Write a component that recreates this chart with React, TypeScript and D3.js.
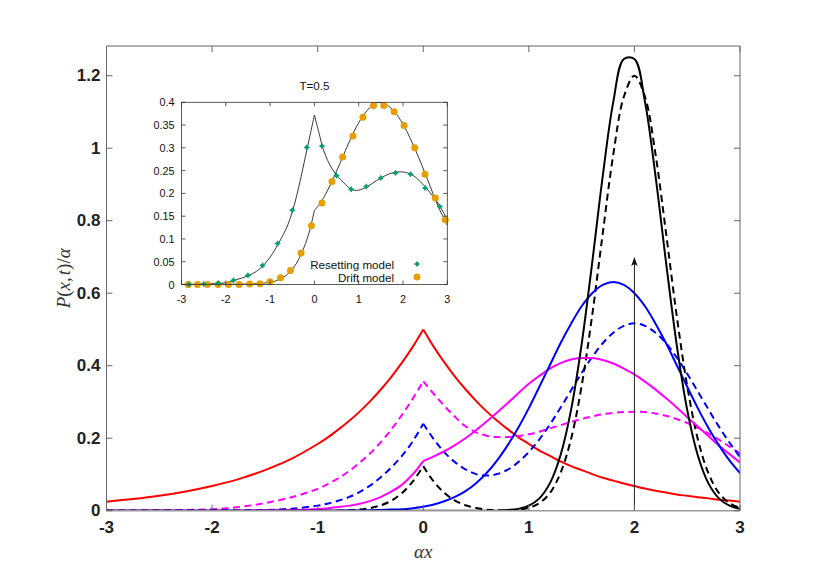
import * as d3 from 'd3';

// shared x grid for the main panel (finer from -1 to 3)
const xGrid = [
  -3, -2.75, -2.5, -2.25, -2, -1.75, -1.5, -1.25,
  -1, -0.9, -0.8, -0.7, -0.6, -0.5, -0.4, -0.3, -0.2, -0.1, 0,
  0.1, 0.2, 0.3, 0.4, 0.5, 0.6, 0.7, 0.8, 0.9, 1,
  1.1, 1.2, 1.3, 1.4, 1.5, 1.6, 1.7, 1.8, 1.9, 2,
  2.1, 2.2, 2.3, 2.4, 2.5, 2.6, 2.7, 2.8, 2.9, 3,
];

const redSteady = [
  0.025, 0.032, 0.041, 0.053, 0.068, 0.087, 0.112, 0.143,
  0.184, 0.203, 0.225, 0.248, 0.274, 0.303, 0.335, 0.370, 0.409, 0.452, 0.5,
  0.452, 0.409, 0.370, 0.335, 0.303, 0.274, 0.248, 0.225, 0.203, 0.184,
  0.166, 0.151, 0.136, 0.123, 0.112, 0.101, 0.091, 0.083, 0.075, 0.068,
  0.061, 0.055, 0.050, 0.045, 0.041, 0.037, 0.034, 0.030, 0.028, 0.025,
];

const magentaSolid = [
  0, 0, 0, 0, 0, 0, 0.001, 0.002,
  0.005, 0.007, 0.010, 0.014, 0.019, 0.027, 0.038, 0.053, 0.072, 0.100, 0.137,
  0.150, 0.164, 0.181, 0.200, 0.222, 0.246, 0.271, 0.297, 0.324, 0.350,
  0.372, 0.392, 0.407, 0.417, 0.421, 0.421, 0.416, 0.406, 0.392, 0.376,
  0.356, 0.334, 0.310, 0.285, 0.258, 0.232, 0.206, 0.180, 0.156, 0.133,
];

const magentaDashed = [
  0, 0, 0.001, 0.002, 0.004, 0.010, 0.021, 0.037,
  0.060, 0.074, 0.090, 0.110, 0.133, 0.159, 0.190, 0.225, 0.265, 0.309, 0.357,
  0.322, 0.289, 0.259, 0.233, 0.216, 0.207, 0.203, 0.203, 0.206, 0.211,
  0.218, 0.227, 0.236, 0.245, 0.253, 0.260, 0.266, 0.270, 0.272, 0.273,
  0.272, 0.268, 0.262, 0.253, 0.242, 0.229, 0.213, 0.196, 0.177, 0.158,
];

const blueSolid = [
  0, 0, 0, 0, 0, 0, 0, 0,
  0, 0, 0.0003, 0.0005, 0.0008, 0.001, 0.002, 0.003, 0.004, 0.007, 0.011,
  0.017, 0.026, 0.038, 0.054, 0.076, 0.104, 0.139, 0.181, 0.229, 0.283,
  0.342, 0.402, 0.462, 0.516, 0.564, 0.600, 0.623, 0.631, 0.623, 0.600,
  0.564, 0.516, 0.462, 0.402, 0.342, 0.283, 0.229, 0.181, 0.139, 0.104,
];

const blueDashed = [
  0, 0, 0, 0, 0.0002, 0.0007, 0.002, 0.0055,
  0.014, 0.020, 0.028, 0.038, 0.052, 0.070, 0.093, 0.120, 0.152, 0.191, 0.240,
  0.197, 0.161, 0.134, 0.114, 0.101, 0.097, 0.101, 0.113, 0.134, 0.162,
  0.197, 0.238, 0.284, 0.332, 0.380, 0.424, 0.462, 0.491, 0.510, 0.517,
  0.510, 0.491, 0.462, 0.423, 0.378, 0.329, 0.280, 0.232, 0.188, 0.148,
];

const blackSolid = [
  0, 0, 0, 0, 0, 0, 0, 0,
  0, 0, 0, 0, 0, 0, 0, 0, 0, 0, 0,
  0, 0, 0, 0, 0, 0, 0, 0.002, 0.005, 0.014,
  0.034, 0.076, 0.153, 0.278, 0.459, 0.684, 0.923, 1.128, 1.246, 1.246,
  1.128, 0.923, 0.684, 0.459, 0.278, 0.153, 0.076, 0.034, 0.014, 0.005,
];

const blackDashed = [
  0, 0, 0, 0, 0, 0, 0, 0,
  0, 0, 0, 0.001, 0.003, 0.0075, 0.015, 0.028, 0.049, 0.080, 0.123,
  0.080, 0.049, 0.028, 0.015, 0.0075, 0.003, 0.001, 0.001, 0.003, 0.008,
  0.021, 0.049, 0.104, 0.198, 0.344, 0.539, 0.765, 0.983, 1.142, 1.2,
  1.142, 0.983, 0.765, 0.539, 0.344, 0.198, 0.104, 0.049, 0.021, 0.008,
];

// initial position marker
const arrowX = 2;
const arrowTop = 0.7;

const mainXTicks = [-3, -2, -1, 0, 1, 2, 3];
const mainYTicks = [0, 0.2, 0.4, 0.6, 0.8, 1, 1.2];
const mainYMax = 1.282;

// inset, T=0.5
const insetX = [
  -3, -2.5, -2, -1.75, -1.5, -1.25, -1, -0.9, -0.8, -0.7, -0.6, -0.5, -0.4, -0.3, -0.2, -0.1, 0,
  0.1, 0.2, 0.3, 0.4, 0.5, 0.6, 0.7, 0.8, 0.9, 1, 1.2, 1.4, 1.6, 1.8, 2, 2.2, 2.4, 2.6, 2.8, 3,
];
const insetResettingLine = [
  0.0002, 0.001, 0.004, 0.011, 0.019, 0.033, 0.060, 0.075, 0.092, 0.110, 0.131, 0.159, 0.195, 0.237, 0.282, 0.327, 0.372,
  0.334, 0.297, 0.272, 0.254, 0.240, 0.229, 0.220, 0.211, 0.207, 0.207, 0.215, 0.228, 0.239, 0.246, 0.247, 0.241, 0.225, 0.203, 0.177, 0.142,
];
const insetDriftLine = [
  0, 0, 0.0003, 0.0006, 0.001, 0.002, 0.005, 0.007, 0.011, 0.016, 0.023, 0.034, 0.047, 0.067, 0.090, 0.121, 0.163,
  0.174, 0.189, 0.207, 0.227, 0.249, 0.271, 0.294, 0.316, 0.337, 0.355, 0.383, 0.399, 0.396, 0.380, 0.352, 0.313, 0.268, 0.219, 0.170, 0.130,
];

const resettingPtsX = [-2.83, -2.5, -2.17, -1.83, -1.5, -1.17, -0.83, -0.5, -0.17, 0.17, 0.5, 0.83, 1.17, 1.5, 1.83, 2.17, 2.5, 2.83];
const resettingPtsY = [0, 0.001, 0.003, 0.009, 0.020, 0.042, 0.090, 0.163, 0.301, 0.304, 0.239, 0.209, 0.215, 0.234, 0.245, 0.242, 0.212, 0.171];

const driftPtsX = [
  -2.85, -2.64, -2.415, -2.175, -1.94, -1.70, -1.46, -1.23, -1.005, -0.765, -0.54, -0.30, -0.067,
  0.17, 0.3975, 0.6375, 0.87, 1.095, 1.335, 1.5675, 1.80, 2.025, 2.265, 2.4975, 2.73, 2.955,
];
const driftPtsY = [
  0, 0, 0, 0, 0, 0, 0.001, 0.0015, 0.006, 0.015, 0.031, 0.069, 0.129,
  0.179, 0.226, 0.280, 0.326, 0.367, 0.393, 0.393, 0.379, 0.349, 0.300, 0.242, 0.190, 0.142,
];

const insetXTicks = [-3, -2, -1, 0, 1, 2, 3];
const insetYTicks = [0, 0.05, 0.1, 0.15, 0.2, 0.25, 0.3, 0.35, 0.4];
const insetYTickLabels = ['0', '0.05', '0.1', '0.15', '0.2', '0.25', '0.3', '0.35', '0.4'];

type Pt = [number, number];

// split a series at x = 0 so the cusp stays sharp
function splitAtZero(xs: number[], ys: number[]): Pt[][] {
  const pts: Pt[] = xs.map((x, i) => [x, ys[i]]);
  return [pts.filter((p) => p[0] <= 0), pts.filter((p) => p[0] >= 0)];
}

const greenStar = (r: number) => {
  const a = r * 0.4;
  return `M0,${-r}L${a},${-a}L${r},0L${a},${a}L0,${r}L${-a},${a}L${-r},0L${-a},${-a}Z`;
};

export default function App() {
  const x = d3.scaleLinear().domain([-3, 3]).range([106.5, 740]);
  const y = d3.scaleLinear().domain([0, mainYMax]).range([510.7, 46]);
  const [x0, x1] = x.range();
  const [yb, yt] = y.range();

  const line = d3
    .line<Pt>()
    .x((d) => x(d[0]))
    .y((d) => y(d[1]))
    .curve(d3.curveCatmullRom.alpha(0.5));

  const series = [
    { ys: redSteady, color: '#ff0000', dash: null },
    { ys: magentaDashed, color: '#ff00ff', dash: '7,4.5' },
    { ys: blueDashed, color: '#0000ff', dash: '7,4.5' },
    { ys: blackDashed, color: '#000000', dash: '7,4.5' },
    { ys: magentaSolid, color: '#ff00ff', dash: null },
    { ys: blueSolid, color: '#0000ff', dash: null },
    { ys: blackSolid, color: '#000000', dash: null },
  ];

  // inset scales
  const xi = d3.scaleLinear().domain([-3, 3]).range([181.5, 447.3]);
  const yi = d3.scaleLinear().domain([0, 0.4]).range([284.5, 102.3]);
  const [xi0, xi1] = xi.range();
  const [yib, yit] = yi.range();
  const insetLine = d3
    .line<Pt>()
    .x((d) => xi(d[0]))
    .y((d) => yi(d[1]))
    .curve(d3.curveCatmullRom.alpha(0.5));

  const tickFont = '"Liberation Sans", Arial, Helvetica, sans-serif';
  const texFont = '"Liberation Serif", "Times New Roman", serif';
  const axisColor = '#666';
  const tl = 6;

  return (
    <svg
      width={817}
      height={577}
      viewBox="0 0 817 577"
      style={{ position: 'absolute', left: 0, top: 0, background: '#fff' }}
    >
      <defs>
        <clipPath id="mainClip">
          <rect x={x0} y={yt} width={x1 - x0} height={yb - yt} />
        </clipPath>
        <clipPath id="insetClip">
          <rect x={xi0} y={yit - 1} width={xi1 - xi0} height={yib - yit + 1} />
        </clipPath>
      </defs>

      {/* curves */}
      <g clipPath="url(#mainClip)" fill="none" strokeWidth={2} strokeLinejoin="round">
        {series.map((s, i) =>
          splitAtZero(xGrid, s.ys).map((half, j) => (
            <path
              key={`${i}-${j}`}
              d={line(half) ?? ''}
              stroke={s.color}
              strokeDasharray={s.dash ?? undefined}
            />
          ))
        )}
      </g>

      {/* arrow at the starting point */}
      <g>
        <line
          x1={x(arrowX)}
          x2={x(arrowX)}
          y1={y(0)}
          y2={y(arrowTop) + 6}
          stroke="#222"
          strokeWidth={1}
        />
        <path
          d={`M${x(arrowX)},${y(arrowTop)} L${x(arrowX) + 3.2},${y(arrowTop) + 9} L${x(arrowX)},${y(arrowTop) + 7} L${x(arrowX) - 3.2},${y(arrowTop) + 9} Z`}
          fill="#111"
        />
      </g>

      {/* main box + ticks */}
      <g stroke={axisColor} strokeWidth={1} fill="none">
        <line x1={x0} x2={x1} y1={yt} y2={yt} />
        <line x1={x0} x2={x0} y1={yt} y2={yb} />
        <line x1={x1} x2={x1} y1={yt} y2={yb} />
        <line x1={x0} x2={x1} y1={yb} y2={yb} stroke="#9a9a9a" strokeWidth={1.5} />
        {mainYTicks.map((t) => (
          <g key={`yt${t}`}>
            <line x1={x0} x2={x0 + tl} y1={y(t)} y2={y(t)} />
            <line x1={x1} x2={x1 - tl} y1={y(t)} y2={y(t)} />
          </g>
        ))}
        {mainXTicks.map((t) => (
          <g key={`xt${t}`}>
            <line x1={x(t)} x2={x(t)} y1={yb} y2={yb - tl} />
            <line x1={x(t)} x2={x(t)} y1={yt} y2={yt + tl} />
          </g>
        ))}
      </g>

      <g fontFamily={tickFont} fontWeight="bold" fontSize={17} fill="#222">
        {mainYTicks.map((t) => (
          <text key={`yl${t}`} x={x0 - 6} y={y(t)} textAnchor="end" dominantBaseline="central">
            {d3.format('~g')(t)}
          </text>
        ))}
        {mainXTicks.map((t) => (
          <text key={`xl${t}`} x={x(t)} y={yb + 17} textAnchor="middle" dominantBaseline="central">
            {String(t)}
          </text>
        ))}
      </g>

      {/* axis titles */}
      <text
        x={(x0 + x1) / 2}
        y={551}
        textAnchor="middle"
        dominantBaseline="central"
        fontFamily={texFont}
        fontStyle="italic"
        fontSize={19}
        fill="#333"
      >
        αx
      </text>
      <text
        transform={`translate(63,${(yt + yb) / 2}) rotate(-90)`}
        textAnchor="middle"
        dominantBaseline="central"
        fontFamily={texFont}
        fontSize={19}
        fill="#333"
      >
        <tspan fontStyle="italic">P</tspan>
        <tspan>(</tspan>
        <tspan fontStyle="italic">x</tspan>
        <tspan>,</tspan>
        <tspan fontStyle="italic" dx={2}>t</tspan>
        <tspan>)/</tspan>
        <tspan fontStyle="italic">α</tspan>
      </text>

      {/* inset */}
      <g>
        <rect x={xi0} y={yit} width={xi1 - xi0} height={yib - yit} fill="#fff" />
        <g clipPath="url(#insetClip)" fill="none" stroke="#222" strokeWidth={0.9}>
          {splitAtZero(insetX, insetResettingLine).map((h, j) => (
            <path key={`ir${j}`} d={insetLine(h) ?? ''} />
          ))}
          {splitAtZero(insetX, insetDriftLine).map((h, j) => (
            <path key={`id${j}`} d={insetLine(h) ?? ''} />
          ))}
        </g>
        <g fill="#e69f00">
          {driftPtsX.map((v, i) => (
            <circle key={`dp${i}`} cx={xi(v)} cy={yi(driftPtsY[i])} r={3.5} />
          ))}
        </g>
        <g fill="#009e73">
          {resettingPtsX.map((v, i) => (
            <path
              key={`rp${i}`}
              d={greenStar(3.2)}
              transform={`translate(${xi(v)},${yi(resettingPtsY[i])})`}
            />
          ))}
        </g>
        <g stroke="#333" strokeWidth={0.8} fill="none">
          <rect x={xi0} y={yit} width={xi1 - xi0} height={yib - yit} />
          {insetYTicks.map((t) => (
            <g key={`iyt${t}`}>
              <line x1={xi0} x2={xi0 + 4} y1={yi(t)} y2={yi(t)} />
              <line x1={xi1} x2={xi1 - 4} y1={yi(t)} y2={yi(t)} />
            </g>
          ))}
          {insetXTicks.map((t) => (
            <g key={`ixt${t}`}>
              <line x1={xi(t)} x2={xi(t)} y1={yib} y2={yib - 4} />
              <line x1={xi(t)} x2={xi(t)} y1={yit} y2={yit + 4} />
            </g>
          ))}
        </g>
        <g fontFamily={tickFont} fontSize={10.8} fill="#111">
          {insetYTicks.map((t, i) => (
            <text key={`iyl${t}`} x={xi0 - 7} y={yi(t)} textAnchor="end" dominantBaseline="central">
              {insetYTickLabels[i]}
            </text>
          ))}
          {insetXTicks.map((t) => (
            <text key={`ixl${t}`} x={xi(t)} y={yib + 14} textAnchor="middle" dominantBaseline="central">
              {String(t)}
            </text>
          ))}
        </g>
        <g fontFamily={tickFont} fontSize={11.6} fill="#111">
          <text x={(xi0 + xi1) / 2} y={85} textAnchor="middle" dominantBaseline="central">
            T=0.5
          </text>
          <text x={394} y={264} textAnchor="end" dominantBaseline="central">
            Resetting model
          </text>
          <text x={394} y={277} textAnchor="end" dominantBaseline="central">
            Drift model
          </text>
        </g>
        <path d={greenStar(3.2)} transform="translate(417,264)" fill="#009e73" />
        <circle cx={417} cy={277} r={3.5} fill="#e69f00" />
      </g>
    </svg>
  );
}
